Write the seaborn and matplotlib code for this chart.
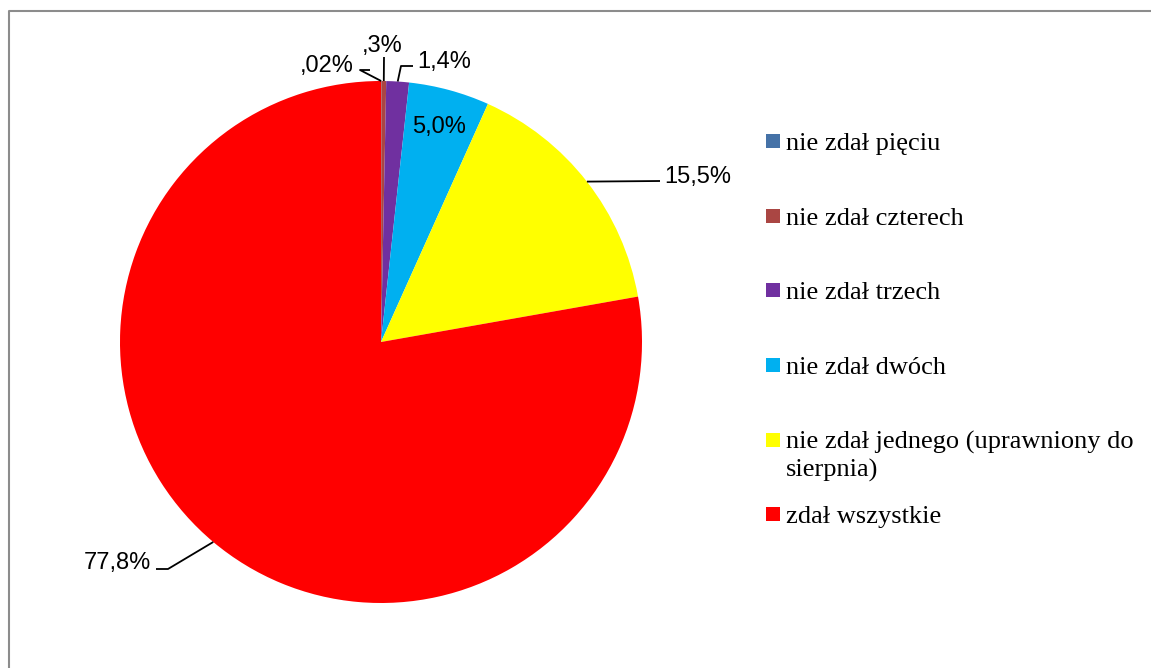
import numpy as np
import matplotlib
matplotlib.use("Agg")
import matplotlib.pyplot as plt
import seaborn as sns
from matplotlib.patches import Rectangle
from matplotlib.lines import Line2D

# data
categories = ["nie zdał pięciu", "nie zdał czterech", "nie zdał trzech",
              "nie zdał dwóch", "nie zdał jednego (uprawniony do\nsierpnia)",
              "zdał wszystkie"]
shares = [0.02, 0.3, 1.4, 5.0, 15.5, 77.8]
pct_labels = [",02%", ",3%", "1,4%", "5,0%", "15,5%", "77,8%"]
colors = ["#4572A7", "#AA4643", "#7030A0", "#00B0F0", "#FFFF00", "#FF0000"]

W, H = 1151, 668
CX, CY, R = 381, 342, 261

sns.set_theme(style="white")
plt.rcParams["font.family"] = ["Liberation Sans", "DejaVu Sans"]

fig = plt.figure(figsize=(W / 100, H / 100), dpi=100)
ax = fig.add_axes([(CX - R) / W, (H - CY - R) / H, 2 * R / W, 2 * R / H])

palette = sns.color_palette(colors)
ax.pie(shares, colors=palette, startangle=90, counterclock=False,
       wedgeprops=dict(linewidth=0))
ax.set_xlim(-1, 1)
ax.set_ylim(-1, 1)
ax.set_aspect("equal", adjustable="box")
ax.axis("off")


def d(px, py):
    return (px - CX) / R, (CY - py) / R


# mid angle of each wedge (clockwise from 12 o'clock)
frac = np.array(shares) / sum(shares)
mid = (np.cumsum(frac) - frac / 2) * 2 * np.pi
anchors = [(np.sin(a), np.cos(a)) for a in mid]

# label layout: (text x, baseline y, ha, leader elbow points in pixels)
layout = [
    (354, 72, "right", [(360, 70), (370, 70)]),
    (382, 52, "center", [(384, 57)]),
    (417, 68, "left", [(401, 66), (413, 66)]),
    (None, 133, "center", None),
    (664, 183, "left", [(660, 181)]),
    (151, 569, "right", [(168, 569), (156, 569)]),
]

for i, (tx, ty, ha, elbow) in enumerate(layout):
    if elbow is None:
        r = 0.855
        x = r * anchors[i][0]
        ax.text(x, d(0, ty)[1], pct_labels[i], ha="center", va="baseline",
                fontsize=17, color="black")
        continue
    pts = [anchors[i]] + [d(px, py) for px, py in elbow]
    xs, ys = zip(*pts)
    ax.plot(xs, ys, color="black", lw=1.3, solid_capstyle="butt", clip_on=False)
    x, y = d(tx, ty)
    ax.text(x, y, pct_labels[i], ha=ha, va="baseline", fontsize=17,
            color="black")

# legend drawn to the right of the pie
leg_y = [141, 216, 290, 365, 440, 514]
for cat, col, yc in zip(categories, colors, leg_y):
    fig.add_artist(Rectangle((766 / W, (H - yc - 7) / H), 14 / W, 14 / H,
                             facecolor=col, edgecolor="none",
                             transform=fig.transFigure))
    for j, line in enumerate(cat.split("\n")):
        fig.text(786 / W, (H - (yc + 9 + 28 * j)) / H, line,
                 family=["Liberation Serif", "DejaVu Serif"], fontsize=19,
                 ha="left", va="baseline", color="black")

# chart area border (continues past right and bottom edges)
fig.add_artist(Line2D([9 / W, 9 / W, 1.01], [-0.01, (H - 11) / H, (H - 11) / H],
                      color="#8C8C8C", lw=1.5, transform=fig.transFigure))

fig.savefig("out.png", dpi=100)
